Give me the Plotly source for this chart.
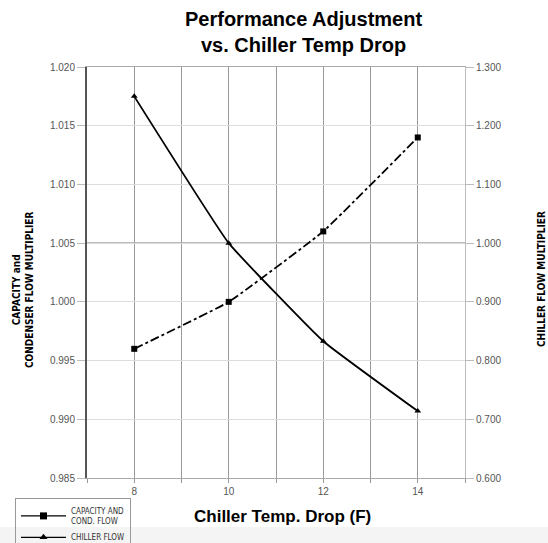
import plotly.graph_objects as go

temp_drop = [8, 10, 12, 14]
capacity_cond_flow = [0.996, 1.000, 1.006, 1.014]
chiller_flow = [1.250, 1.000, 0.833, 0.714]

x_ticks = [8, 10, 12, 14]
left_ticks = [0.985, 0.990, 0.995, 1.000, 1.005, 1.010, 1.015, 1.020]
right_ticks = [0.6, 0.7, 0.8, 0.9, 1.0, 1.1, 1.2, 1.3]

W, H = 548, 543
L, R, T, B = 87, 83, 67, 65
pw, ph = W - L - R, H - T - B

def px(xp):
    return (xp - L) / pw

def py(yp):
    return (H - B - yp) / ph

tick_font = dict(family="Liberation Sans, Arial, sans-serif", size=10, color="#555555")
cond_font = "Liberation Sans Narrow, DejaVu Sans Condensed, Arial Narrow, sans-serif"

fig = go.Figure()

fig.add_trace(go.Scatter(
    x=temp_drop, y=capacity_cond_flow, mode="lines+markers",
    line=dict(color="black", width=1.8, dash="dashdot", shape="spline", smoothing=0.3),
    marker=dict(symbol="square", size=6, color="black"),
    showlegend=False, yaxis="y"))
fig.add_trace(go.Scatter(
    x=temp_drop, y=chiller_flow, mode="lines+markers",
    line=dict(color="black", width=1.8, shape="spline", smoothing=0.3),
    marker=dict(symbol="triangle-up", size=6, color="black"),
    showlegend=False, yaxis="y2"))

# legend entries (solid symbols as in the reference legend)
fig.add_trace(go.Scatter(
    x=[None], y=[None], mode="lines+markers", name="CAPACITY AND<br>COND. FLOW",
    line=dict(color="black", width=1.2), marker=dict(symbol="square", size=7, color="black")))
fig.add_trace(go.Scatter(
    x=[None], y=[None], mode="lines+markers", name="CHILLER FLOW",
    line=dict(color="black", width=1.2), marker=dict(symbol="triangle-up", size=7, color="black")))

fig.update_layout(
    width=W, height=H,
    margin=dict(l=L, r=R, t=T, b=B, pad=0, autoexpand=False),
    paper_bgcolor="white", plot_bgcolor="white",
    xaxis=dict(range=[7, 15], tickvals=x_ticks, ticktext=[str(v) for v in x_ticks],
               showgrid=True, gridcolor="#999999", gridwidth=1.2, automargin=False,
               minor=dict(dtick=1, tick0=7, showgrid=True, gridcolor="#999999", gridwidth=1.2,
                          ticks="outside", ticklen=4, tickcolor="#999999"),
               ticks="", tickfont=tick_font, zeroline=False, ticklabelstandoff=4,
               showline=True, linecolor="#aaaaaa", linewidth=1, mirror=True),
    yaxis=dict(range=[0.985, 1.020], tickvals=left_ticks, automargin=False,
               ticktext=[f"{v:.3f}" for v in left_ticks],
               showgrid=True, gridcolor="#dddddd", gridwidth=1.2,
               ticks="outside", ticklen=8, tickcolor="#bbbbbb",
               tickfont=tick_font, zeroline=False,
               showline=True, linecolor="#555555", linewidth=2),
    yaxis2=dict(range=[0.6, 1.3], tickvals=right_ticks, automargin=False,
                ticktext=[f"{v:.3f}" for v in right_ticks],
                overlaying="y", side="right", showgrid=False,
                ticks="outside", ticklen=8, tickcolor="#bbbbbb",
                tickfont=tick_font, zeroline=False,
                showline=True, linecolor="#bbbbbb", linewidth=1),
    legend=dict(x=px(15), y=py(498), xanchor="left", yanchor="top",
                xref="paper", yref="paper",
                bgcolor="rgba(0,0,0,0)", bordercolor="#999999", borderwidth=1,
                font=dict(family=cond_font, size=8, color="#333333"),
                itemwidth=45, tracegroupgap=0),
    shapes=[
        dict(type="rect", xref="paper", yref="paper", x0=px(0), x1=px(W),
             y0=py(H), y1=py(527), fillcolor="#f4f4f4", line=dict(width=0), layer="below"),
        dict(type="line", xref="paper", yref="y", x0=0, x1=1, y0=1.005, y1=1.005,
             line=dict(color="#777777", width=1.5), layer="below"),
    ],
    annotations=[
        dict(text="<b>Performance Adjustment<br>vs. Chiller Temp Drop</b>",
             xref="paper", yref="paper", x=px(303), y=py(32),
             xanchor="center", yanchor="middle", showarrow=False,
             font=dict(family="Liberation Sans, Arial, sans-serif", size=20, color="black")),
        dict(text="<b>Chiller Temp. Drop (F)</b>", xref="paper", yref="paper",
             x=px(282), y=py(516), xanchor="center", yanchor="middle", showarrow=False,
             font=dict(family="Liberation Sans, Arial, sans-serif", size=17, color="black")),
        dict(text="<b>CAPACITY and<br>CONDENSER FLOW MULTIPLIER</b>", xref="paper", yref="paper",
             x=px(23), y=py(290), xanchor="center", yanchor="middle", showarrow=False,
             textangle=-90, font=dict(family=cond_font, size=10, color="black")),
        dict(text="<b>CHILLER FLOW MULTIPLIER</b>", xref="paper", yref="paper",
             x=px(541), y=py(279), xanchor="center", yanchor="middle", showarrow=False,
             textangle=-90, font=dict(family=cond_font, size=10, color="black")),
    ],
)

fig.write_html("out.html", config={"displayModeBar": False},
               post_script="document.body.style.margin='0';document.body.style.padding='0';")
